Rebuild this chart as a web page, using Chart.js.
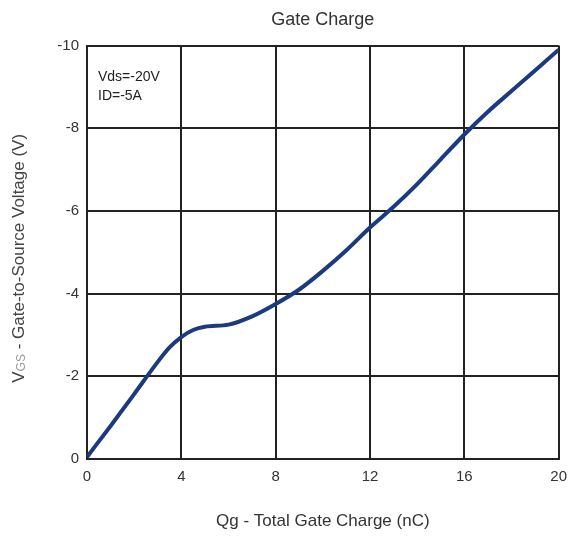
<!DOCTYPE html>
<html>
<head>
<meta charset="utf-8">
<script src="https://cdn.jsdelivr.net/npm/chart.js@4"></script>
<style>
  html, body { margin: 0; padding: 0; background: #fff; }
  #wrap { width: 576px; height: 538px; }
</style>
</head>
<body>
<div id="wrap"><canvas id="chart" width="576" height="538"></canvas></div>
<script>
// gate charge curve (Qg in nC, Vgs in V)
let qgValues = [0, 1, 2, 3, 3.5, 4, 4.5, 5, 6, 7, 8, 9, 10, 11, 12, 13, 14, 15, 16, 17, 18, 19, 20];
let vgsValues = [-0.05, -0.8, -1.57, -2.35, -2.7, -2.95, -3.12, -3.2, -3.25, -3.45, -3.75, -4.1, -4.55, -5.05, -5.6, -6.1, -6.65, -7.25, -7.85, -8.4, -8.9, -9.4, -9.9];
let xTicks = [0, 4, 8, 12, 16, 20];
let yTicks = [0, -2, -4, -6, -8, -10];
let noteLines = ['Vds=-20V', 'ID=-5A'];

let points = qgValues.map(function(q, i) { return { x: q, y: vgsValues[i] }; });
let fontFamily = '"Liberation Sans", Arial, sans-serif';

// text box in the upper left corner + y title with subscript
let notePlugin = {
  id: 'note',
  afterDraw: function(chart) {
    let ctx = chart.ctx;
    let area = chart.chartArea;
    ctx.save();
    ctx.fillStyle = '#222';
    ctx.font = '14px ' + fontFamily;
    ctx.textBaseline = 'middle';
    noteLines.forEach(function(t, i) {
      ctx.fillText(t, area.left + 11, area.top + 32 + i * 19);
    });
    ctx.restore();

    // y axis title: V + subscript GS
    let parts = [
      { t: 'V', font: '17px ' + fontFamily, color: '#444', dy: 0 },
      { t: 'GS', font: '12px ' + fontFamily, color: '#999', dy: 3 },
      { t: ' - Gate-to-Source Voltage (V)', font: '17px ' + fontFamily, color: '#444', dy: 0 }
    ];
    ctx.save();
    let total = 0;
    parts.forEach(function(p) { ctx.font = p.font; p.w = ctx.measureText(p.t).width; total += p.w; });
    ctx.translate(area.left - 68, (area.top + area.bottom) / 2 + 6);
    ctx.rotate(-Math.PI / 2);
    ctx.textBaseline = 'middle';
    let x = -total / 2;
    parts.forEach(function(p) {
      ctx.font = p.font;
      ctx.fillStyle = p.color;
      ctx.fillText(p.t, x, p.dy);
      x += p.w;
    });
    ctx.restore();
  }
};

let ctx = document.getElementById('chart').getContext('2d');
new Chart(ctx, {
  type: 'scatter',
  data: {
    datasets: [{
      data: points,
      showLine: true,
      borderColor: '#1c3a7c',
      borderWidth: 4,
      pointRadius: 0,
      tension: 0.4,
      cubicInterpolationMode: 'monotone'
    }]
  },
  options: {
    responsive: false,
    animation: false,
    layout: { padding: { top: 3, right: 17, bottom: 5, left: 0 } },
    plugins: {
      legend: { display: false },
      tooltip: { enabled: false },
      title: {
        display: true,
        fullSize: false,
        text: 'Gate Charge',
        color: '#333',
        font: { family: fontFamily, size: 18, weight: 'normal' },
        padding: { top: 6, bottom: 15 }
      }
    },
    scales: {
      x: {
        type: 'linear',
        min: 0,
        max: 20,
        afterBuildTicks: function(scale) {
          scale.ticks = xTicks.map(function(v) { return { value: v }; });
        },
        afterFit: function(scale) { scale.height = 74; },
        grid: { color: '#222', lineWidth: 2, drawTicks: false },
        border: { display: true, color: '#222', width: 2 },
        ticks: {
          color: '#333',
          padding: 9,
          font: { family: fontFamily, size: 15 }
        },
        title: {
          display: true,
          text: 'Qg - Total Gate Charge (nC)',
          color: '#333',
          font: { family: fontFamily, size: 17 },
          padding: { top: 0, bottom: 1 }
        }
      },
      y: {
        type: 'linear',
        min: -10,
        max: 0,
        reverse: true,
        afterBuildTicks: function(scale) {
          scale.ticks = yTicks.map(function(v) { return { value: v }; });
        },
        afterFit: function(scale) { scale.width = 87; },
        grid: { color: '#222', lineWidth: 2, drawTicks: false },
        border: { display: true, color: '#222', width: 2 },
        ticks: {
          color: '#333',
          padding: 8,
          font: { family: fontFamily, size: 15 }
        }
      }
    }
  },
  plugins: [notePlugin]
});
</script>
</body>
</html>
